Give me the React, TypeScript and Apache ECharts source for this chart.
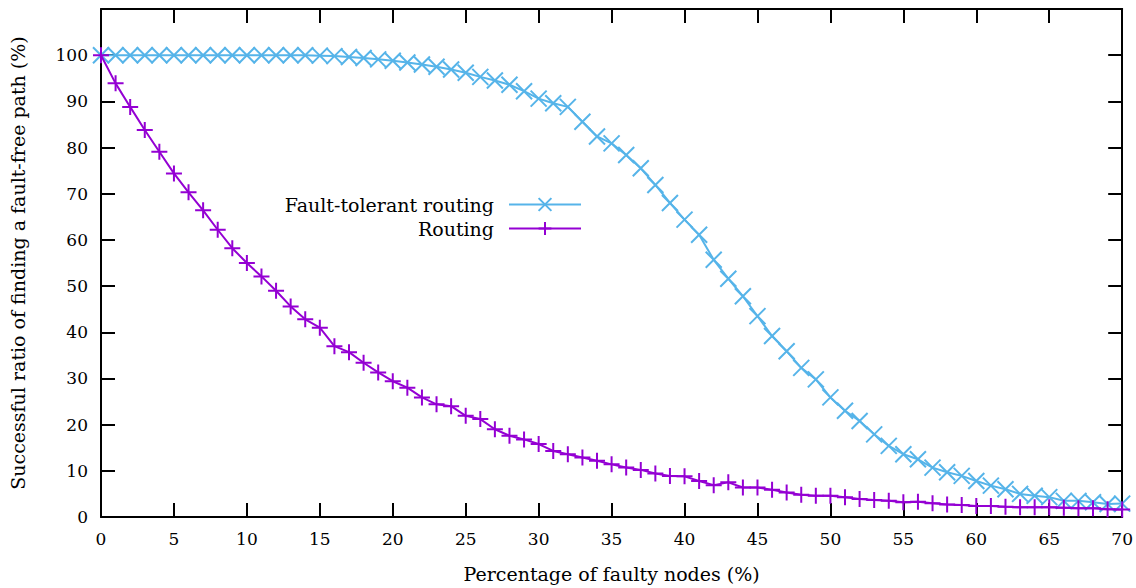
import React, { useEffect, useRef } from "react";
import * as echarts from "echarts";

const xValues: number[] = Array.from({ length: 71 }, (_, i) => i);

const faultTolerant: number[] = [
  100, 100, 100, 100, 100, 100, 100, 100, 100, 100,
  100, 100, 100, 100, 100, 99.9, 99.8, 99.6, 99.4, 99.1,
  98.8, 98.4, 98.0, 97.5, 96.9, 96.2, 95.3, 94.5, 93.6, 92.2,
  90.6, 89.6, 88.8, 85.6, 82.4, 80.9, 78.4, 75.5, 71.9, 68.0,
  64.4, 61.1, 55.7, 51.6, 47.8, 43.5, 39.2, 35.9, 32.3, 29.8,
  25.9, 23.0, 20.8, 17.9, 15.4, 13.6, 12.5, 10.7, 9.7, 8.9,
  7.8, 6.8, 6.0, 5.0, 4.6, 4.3, 3.5, 3.5, 3.2, 2.8,
  2.9,
];

const routing: number[] = [
  100, 93.9, 88.8, 83.8, 79.1, 74.4, 70.3, 66.4, 62.2, 58.2,
  55.0, 52.1, 49.0, 45.6, 42.8, 41.0, 37.0, 35.7, 33.4, 31.3,
  29.4, 28.0, 25.9, 24.4, 24.0, 21.9, 21.2, 19.0, 17.6, 16.8,
  15.8, 14.3, 13.6, 12.9, 12.2, 11.4, 10.7, 10.2, 9.4, 8.9,
  8.8, 7.8, 6.9, 7.5, 6.4, 6.4, 5.9, 5.3, 4.8, 4.6,
  4.6, 4.3, 3.9, 3.7, 3.5, 3.2, 3.3, 3.0, 2.7, 2.6,
  2.4, 2.4, 2.2, 2.1, 2.1, 2.1, 2.0, 1.9, 1.9, 1.7,
  1.6,
];

const seriesNames: string[] = ["Fault-tolerant routing", "Routing"];
const xTitle = "Percentage of faulty nodes (%)";
const yTitle = "Successful ratio of finding a fault-free path (%)";

const FONT = "DejaVu Serif, serif";
const CYAN = "#56B4E9";
const PURPLE = "#9400D3";

export default function App() {
  const ref = useRef<HTMLDivElement>(null);
  useEffect(() => {
    if (!ref.current) return;
    const chart = echarts.init(ref.current, null, { renderer: "svg" });
    const axisCommon = {
      axisLine: { show: true, onZero: false, lineStyle: { color: "#000", width: 2 } },
      axisTick: { show: true, inside: true, length: 14, lineStyle: { color: "#000", width: 2 } },
      splitLine: { show: false },
    };
    const tickStyle = { color: "#000", fontFamily: FONT, fontSize: 17, fontWeight: "normal" };
    const titleStyle = { color: "#000", fontFamily: FONT, fontSize: 19, fontWeight: "normal" };
    const legendCommon = {
      orient: "vertical",
      align: "right",
      right: 554,
      padding: 0,
      itemWidth: 72,
      itemHeight: 16,
      itemGap: 0,
      textStyle: { ...titleStyle, padding: [0, 10, 0, 0] },
      selectedMode: false,
    };
    chart.setOption({
      animation: false,
      backgroundColor: "#fff",
      textStyle: { fontFamily: FONT },
      grid: { left: 101, top: 9, width: 1022, height: 509, containLabel: false },
      legend: [
        { ...legendCommon, data: [seriesNames[0]], top: 195 },
        { ...legendCommon, data: [seriesNames[1]], top: 219 },
      ],
      xAxis: [
        {
          type: "value",
          min: 0,
          max: 70,
          interval: 5,
          position: "bottom",
          ...axisCommon,
          axisLabel: { ...tickStyle, margin: 13 },
          name: xTitle,
          nameLocation: "middle",
          nameGap: 47,
          nameTextStyle: { ...titleStyle },
        },
        {
          type: "value",
          min: 0,
          max: 70,
          interval: 5,
          position: "top",
          ...axisCommon,
          axisLabel: { show: false },
        },
      ],
      yAxis: [
        {
          type: "value",
          min: 0,
          max: 110,
          interval: 10,
          position: "left",
          ...axisCommon,
          axisLabel: {
            ...tickStyle,
            margin: 13,
            formatter: (v: number) => (v > 100 ? "" : String(v)),
          },
          name: yTitle,
          nameLocation: "middle",
          nameGap: 74,
          nameTextStyle: { ...titleStyle },
        },
        {
          type: "value",
          min: 0,
          max: 110,
          interval: 10,
          position: "right",
          ...axisCommon,
          axisLabel: { show: false },
        },
      ],
      series: [
        {
          name: seriesNames[0],
          type: "line",
          data: xValues.map((x, i) => [x, faultTolerant[i]]),
          symbol: "path://M0,0L10,10M10,0L0,10",
          symbolSize: 16,
          showSymbol: true,
          lineStyle: { color: CYAN, width: 2 },
          itemStyle: { color: CYAN, borderColor: CYAN, borderWidth: 2 },
          z: 2,
        },
        {
          name: seriesNames[1],
          type: "line",
          data: xValues.map((x, i) => [x, routing[i]]),
          symbol: "path://M5,0L5,10M0,5L10,5",
          symbolSize: 16,
          showSymbol: true,
          lineStyle: { color: PURPLE, width: 2 },
          itemStyle: { color: PURPLE, borderColor: PURPLE, borderWidth: 2 },
          z: 3,
        },
      ],
    });
    return () => chart.dispose();
  }, []);
  return <div ref={ref} style={{ width: 1136, height: 588, position: "absolute", left: 0, top: 0 }} />;
}
